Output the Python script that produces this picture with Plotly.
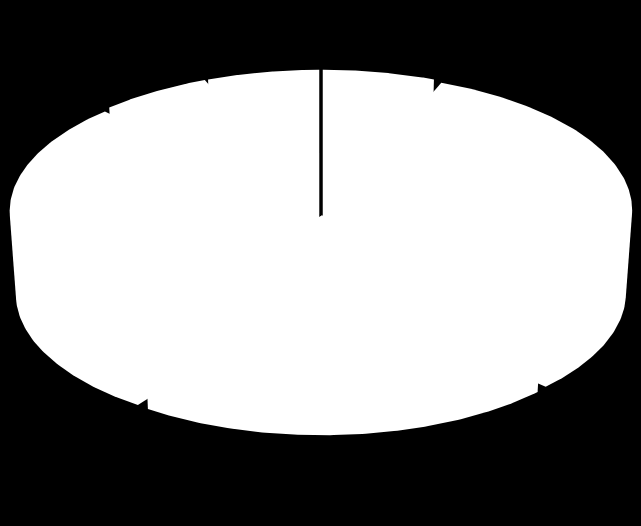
import numpy as np
import plotly.graph_objects as go

# slice data, clockwise from 12 o'clock
labels = ["A", "B", "C", "D", "E", "F"]
values = [6, 31, 23, 28, 6, 6]

# 3d pie look (pixel space of the picture)
cx, cy = 321, 211       # centre of the top face
rx, ry = 302, 137       # radii of the top face
depth = 83              # thickness of the pie
taper = 0.98            # bottom face a bit narrower (perspective)
explode = 0.031         # pull-out of every slice


def hull(pts):
    # monotone chain convex hull
    pts = sorted(set(map(tuple, np.round(pts, 3))))
    def cross(o, a, b):
        return (a[0] - o[0]) * (b[1] - o[1]) - (a[1] - o[1]) * (b[0] - o[0])
    lower, upper = [], []
    for p in pts:
        while len(lower) >= 2 and cross(lower[-2], lower[-1], p) <= 0:
            lower.pop()
        lower.append(p)
    for p in reversed(pts):
        while len(upper) >= 2 and cross(upper[-2], upper[-1], p) <= 0:
            upper.pop()
        upper.append(p)
    h = lower[:-1] + upper[:-1]
    return np.array(h + [h[0]])


fig = go.Figure()

total = sum(values)
start = 90.0
for lab, v in zip(labels, values):
    sweep = 360.0 * v / total
    end = start - sweep
    mid = np.radians((start + end) / 2)
    t = np.radians(np.linspace(start, end, 120))
    u = np.concatenate([[0.0], np.cos(t)]) + explode * np.cos(mid)
    w = np.concatenate([[0.0], np.sin(t)]) + explode * np.sin(mid)
    top = np.column_stack([cx + rx * u, cy - ry * w])
    bottom = np.column_stack([cx + rx * taper * u, cy - ry * w + depth])
    h = hull(np.vstack([top, bottom]))
    fig.add_trace(go.Scatter(
        x=h[:, 0], y=h[:, 1],
        mode="lines",
        fill="toself",
        fillcolor="white",
        line=dict(width=0, color="white"),
        name=lab,
        hoverinfo="name",
    ))
    start = end

fig.update_layout(
    width=641, height=526,
    margin=dict(l=0, r=0, t=0, b=0),
    paper_bgcolor="black",
    plot_bgcolor="black",
    showlegend=False,
    xaxis=dict(range=[0, 641], visible=False, fixedrange=True),
    yaxis=dict(range=[526, 0], visible=False, fixedrange=True),
)

# page itself black and without the default body margin
fig.write_html(
    "out.html",
    config={"displayModeBar": False},
    post_script="document.body.style.margin='0';"
                "document.body.style.background='black';"
                "document.body.style.overflow='hidden';",
)
